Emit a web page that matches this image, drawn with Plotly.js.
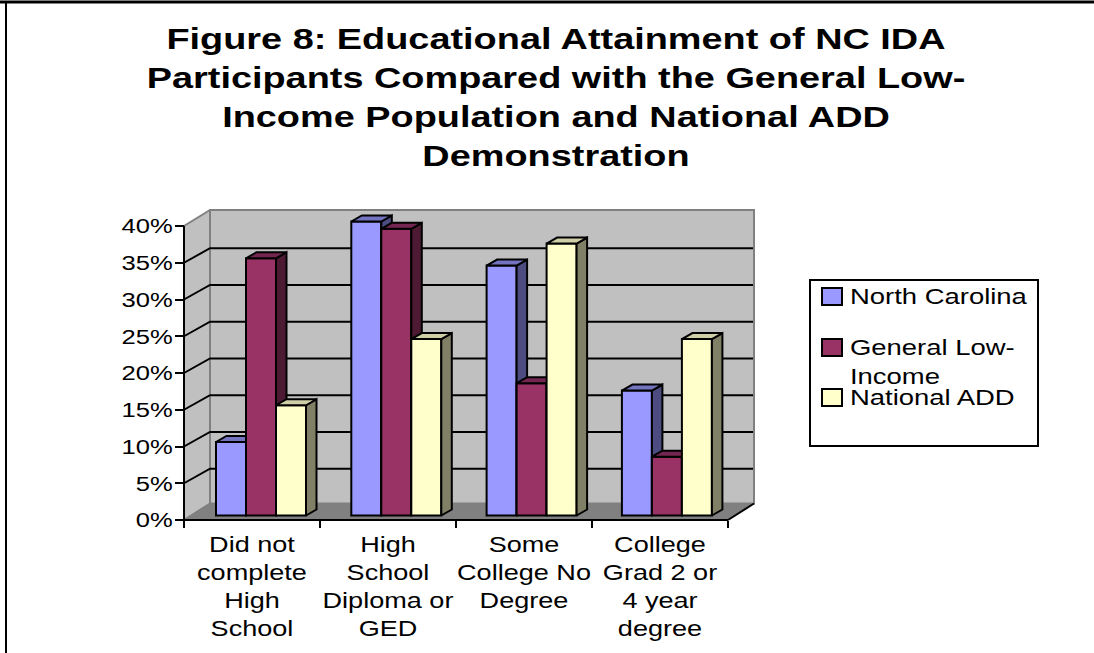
<!DOCTYPE html>
<html>
<head>
<meta charset="utf-8">
<script src="https://cdn.plot.ly/plotly-3.0.1.min.js"></script>
<style>html,body{margin:0;padding:0;background:#fff;overflow:hidden}</style>
</head>
<body>
<div id="chart" style="width:1094px;height:653px"></div>
<script>
// Educational attainment shares (percent) by group
const categories = [
  'Did not<br>complete<br>High<br>School',
  'High<br>School<br>Diploma or<br>GED',
  'Some<br>College No<br>Degree',
  'College<br>Grad 2 or<br>4 year<br>degree'
];
const northCarolina = [10, 40, 34, 17];
const generalLowIncome = [35, 39, 18, 8];
const nationalADD = [15, 24, 37, 24];
const seriesNames = ['North Carolina', 'General Low-<br>Income', 'National ADD'];
const percentTicks = [0, 5, 10, 15, 20, 25, 30, 35, 40];

const W = 1094, H = 653;
const FONT = 'Liberation Sans, Arial, sans-serif';

// Pixel frame of the front plane of the plot
const plot = {left: 184, right: 728, bottom: 520, top: 226};
const unitX = (plot.right - plot.left) / categories.length;
const unitY = (plot.bottom - plot.top) / 40;
const dx = px => px / unitX;
const dy = px => -px / unitY;
const xIdx = categories.map((_, i) => i);
const xMin = -0.5, xMax = categories.length - 0.5, yMax = 40;

// Depth of the walls, the gridlines and a bar, in pixels
const wallDepth = {x: 26, yTop: -16, yFloor: -16.5, yGrid: -14.5};
const barDepth = {x: 10.5, y: -6};

// Bars stand slightly inside the floor
const barUnitX = 135.3;
const barFrame = {left: 261 - 0.5 * barUnitX, bottom: 515.5};

// Front, side and top shades of each series
const faces = [
  {front: '#9999FF', side: '#4C4C80', top: '#7373BF', values: northCarolina},
  {front: '#993366', side: '#4D1A33', top: '#732650', values: generalLowIncome},
  {front: '#FFFFCC', side: '#808066', top: '#CFCFA8', values: nationalADD}
];
const barWidth = 30 / barUnitX;
const offsets = [-45 / barUnitX, -15 / barUnitX, 15 / barUnitX];

function poly(xs, ys, fill, line, width, axes) {
  return Object.assign({
    type: 'scatter', mode: 'lines', x: xs, y: ys,
    fill: fill ? 'toself' : 'none', fillcolor: fill || undefined,
    line: {color: line, width: width, simplify: false},
    hoverinfo: 'skip', showlegend: false
  }, axes || {xaxis: 'x', yaxis: 'y'});
}

const traces = [];
const wx = dx(wallDepth.x), wTop = dy(wallDepth.yTop), wFloor = dy(wallDepth.yFloor), wGrid = dy(wallDepth.yGrid);

// Back wall, side wall and floor
traces.push(poly([xMin + wx, xMax + wx, xMax + wx, xMin + wx, xMin + wx],
                 [wFloor, wFloor, yMax + wTop, yMax + wTop, wFloor], '#C0C0C0', '#808080', 2));
traces.push(poly([xMin, xMin + wx, xMin + wx, xMin, xMin],
                 [0, wFloor, yMax + wTop, yMax, 0], '#C0C0C0', '#808080', 2));
traces.push(poly([xMin, xMin + wx, xMax + wx, xMax, xMin],
                 [0, wFloor, wFloor, 0, 0], '#808080', '#808080', 1));

// Gridlines run along the side wall and across the back wall
const gx = [], gy = [];
percentTicks.filter(t => t > 0 && t < yMax).forEach(t => {
  gx.push(xMin, xMin + wx, xMax + wx - dx(1), null);
  gy.push(t, t + wGrid, t + wGrid, null);
});
traces.push(poly(gx, gy, null, '#000000', 2));
traces.push(poly([xMax, xMax + wx], [0, wFloor], null, '#000000', 2));
// Front axis lines
traces.push(poly([xMin, xMin, xMax], [yMax, 0, 0], null, '#000000', 2));

// Each series sits in its own overlapping subplot so the later series paint over
// the side faces of the earlier ones
const bx = barDepth.x / barUnitX, by = dy(barDepth.y);
faces.forEach((f, s) => {
  const axes = {xaxis: 'x' + (s + 2), yaxis: 'y' + (s + 2)};
  const sideX = [], sideY = [], topX = [], topY = [];
  f.values.forEach((v, i) => {
    const x0 = xIdx[i] + offsets[s], x1 = x0 + barWidth;
    sideX.push(x1, x1 + bx, x1 + bx, x1, x1, null);
    sideY.push(0, by, v + by, v, 0, null);
    topX.push(x0, x0 + bx, x1 + bx, x1, x0, null);
    topY.push(v, v + by, v + by, v, v, null);
  });
  traces.push(poly(sideX, sideY, f.side, '#000000', 2, axes));
  traces.push(poly(topX, topY, f.top, '#000000', 2, axes));
  traces.push(Object.assign({
    type: 'bar', x: xIdx, y: f.values, name: seriesNames[s].replace('<br>', ' '),
    width: barWidth, offset: offsets[s],
    marker: {color: f.front, line: {color: '#000000', width: 2}},
    hoverinfo: 'skip', showlegend: false
  }, axes));
});

// Subplots extend past the front plane so the depth faces stay inside the plot area
const pad = {left: 8, right: 40, bottom: 10, top: 40};
const baseDomainX = [(plot.left - pad.left) / W, (plot.right + pad.right) / W];
const baseDomainY = [(H - plot.bottom - pad.bottom) / H, (H - plot.top + pad.top) / H];
const barDomainX = [(barFrame.left - pad.left) / W, (barFrame.left + 4 * barUnitX + pad.right) / W];
const barDomainY = [(H - barFrame.bottom - pad.bottom) / H, (H - barFrame.bottom + yMax * unitY + pad.top) / H];

const layout = {
  width: W, height: H,
  margin: {l: 0, r: 0, t: 0, b: 0},
  paper_bgcolor: '#FFFFFF', plot_bgcolor: 'rgba(0,0,0,0)',
  font: {family: FONT, color: '#000000', size: 21.5},
  showlegend: false,
  title: {
    text: 'Figure 8: Educational Attainment of NC IDA<br>Participants Compared with the General Low-<br>Income Population and National ADD<br>Demonstration',
    font: {family: FONT, size: 30, color: '#000000', weight: 700},
    x: 556 / W, xanchor: 'center', y: 1 - 49 / H, yanchor: 'top'
  },
  xaxis: {
    domain: baseDomainX, range: [xMin - pad.left / unitX, xMax + pad.right / unitX],
    anchor: 'free', position: (H - plot.bottom) / H,
    tickmode: 'array', tickvals: xIdx, ticktext: categories,
    ticks: '', showgrid: false, zeroline: false, showline: false,
    minor: {tickmode: 'array', tickvals: [-0.5, 0.5, 1.5, 2.5, 3.5],
            ticks: 'outside', ticklen: 7, tickwidth: 2, tickcolor: '#000000', showgrid: false},
    tickangle: 0, tickfont: {size: 21.5}, ticklabelstandoff: 10, fixedrange: true
  },
  yaxis: {
    domain: baseDomainY, range: [-pad.bottom / unitY, yMax + pad.top / unitY],
    anchor: 'free', position: plot.left / W,
    tickmode: 'array', tickvals: percentTicks, ticktext: percentTicks.map(t => t + '%'),
    ticks: 'outside', ticklen: 9, tickwidth: 2, tickcolor: '#000000',
    showgrid: false, zeroline: false, showline: false,
    tickfont: {size: 21}, ticklabelstandoff: -2, fixedrange: true
  },
  shapes: [],
  annotations: []
};
faces.forEach((f, s) => {
  const n = s + 2;
  layout['xaxis' + n] = {domain: barDomainX, anchor: 'y' + n, visible: false, fixedrange: true,
    range: [xMin - pad.left / barUnitX, xMax + (541.2 / barUnitX - 4) + pad.right / barUnitX]};
  layout['yaxis' + n] = {domain: barDomainY, anchor: 'x' + n, visible: false, fixedrange: true,
    range: [-pad.bottom / unitY, yMax + pad.top / unitY]};
});

// Frame: top and left rules only
const pxX = x => x / W, pxY = y => 1 - y / H;
layout.shapes.push({type: 'line', xref: 'paper', yref: 'paper',
  x0: 0, x1: 1, y0: pxY(2), y1: pxY(2), line: {color: '#000000', width: 3}, layer: 'above'});
layout.shapes.push({type: 'line', xref: 'paper', yref: 'paper',
  x0: pxX(6), x1: pxX(6), y0: pxY(2), y1: 0, line: {color: '#000000', width: 2}, layer: 'above'});

// Legend box, swatches and labels
const legendBox = {l: 810, r: 1038, t: 280, b: 446};
const legendRows = [297, 348, 398];
const legendTextY = [296, 362, 397];
layout.shapes.push({type: 'rect', xref: 'paper', yref: 'paper',
  x0: pxX(legendBox.l), x1: pxX(legendBox.r), y0: pxY(legendBox.t), y1: pxY(legendBox.b),
  line: {color: '#000000', width: 2}, fillcolor: '#FFFFFF', layer: 'above'});
faces.forEach((f, s) => {
  layout.shapes.push({type: 'rect', xref: 'paper', yref: 'paper',
    x0: pxX(822), x1: pxX(842), y0: pxY(legendRows[s] - 9), y1: pxY(legendRows[s] + 8),
    line: {color: '#000000', width: 2}, fillcolor: f.front, layer: 'above'});
  layout.annotations.push({xref: 'paper', yref: 'paper', x: pxX(848), y: pxY(legendTextY[s]),
    xanchor: 'left', yanchor: 'middle', align: 'left', showarrow: false,
    text: seriesNames[s], font: {family: FONT, size: 22.5, color: '#000000'}});
});

// The type is set slightly wide: widen each text element about its anchor
function widen(selector, factor, anchor) {
  document.querySelectorAll(selector).forEach(el => {
    const b = el.getBBox();
    const cx = anchor === 'left' ? b.x : anchor === 'right' ? b.x + b.width : b.x + b.width / 2;
    const old = el.getAttribute('transform') || '';
    el.setAttribute('transform', `${old} translate(${cx},0) scale(${factor},1) translate(${-cx},0)`);
  });
}

Plotly.newPlot('chart', traces, layout, {displayModeBar: false, staticPlot: true}).then(() => {
  widen('.gtitle', 1.263, 'center');
  widen('.xtick text', 1.26, 'center');
  widen('.ytick text', 1.22, 'right');
  widen('.annotation-text', 1.22, 'left');
});
</script>
</body>
</html>
